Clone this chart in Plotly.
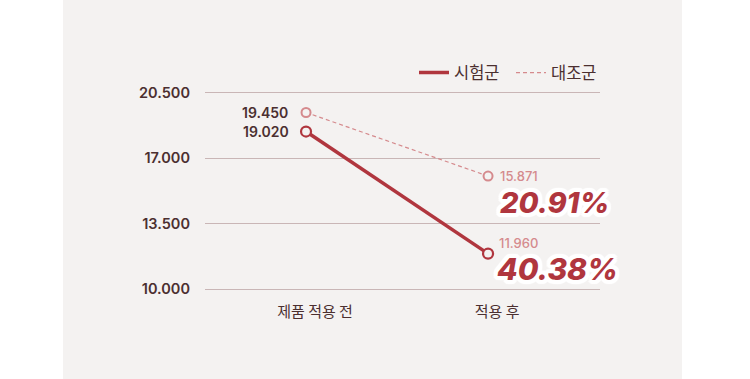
import plotly.graph_objects as go

# ---- data ----
categories = ["제품 적용 전", "적용 후"]
x_pos = [0, 1]
test_values = [18.43, 11.90]        # 시험군 plotted positions
control_values = [19.45, 16.05]     # 대조군 plotted positions
test_labels = ["19.020", "11.960"]
control_labels = ["19.450", "15.871"]
test_reduction = "40.38%"
control_reduction = "20.91%"
y_ticks = [10.0, 13.5, 17.0, 20.5]
y_tick_labels = ["10.000", "13.500", "17.000", "20.500"]
y_range = [9.9, 20.6]

# ---- styles ----
RED = "#b0363e"
PINK = "#d58a8d"
DARK = "#4b2f30"
PANEL = "#f4f2f1"
GRID = "#c9b6b6"
NUM_FONT = "Inter, Lato, DejaVu Sans, sans-serif"
KR_FONT = "Noto Sans CJK KR, Noto Sans, sans-serif"

W, H = 750, 379
M_L, M_R = 205, 150
PX_PER_UNIT = 196 / 10.5
M_T = 93 - (y_range[1] - 20.5) * PX_PER_UNIT
M_B = (H - 289) - (10.0 - y_range[0]) * PX_PER_UNIT
PLOT_W = W - M_L - M_R
PLOT_H = H - M_T - M_B

fig = go.Figure()

fig.add_trace(go.Scatter(
    x=x_pos, y=test_values, name="시험군", mode="lines",
    line=dict(color=RED, width=3.5), cliponaxis=False,
))
fig.add_trace(go.Scatter(
    x=x_pos, y=control_values, name="대조군", mode="lines",
    line=dict(color=PINK, width=1.2, dash="4px,3px"), cliponaxis=False,
))
fig.add_trace(go.Scatter(
    x=x_pos, y=test_values, mode="markers", showlegend=False,
    marker=dict(symbol="circle", size=10, color=PANEL, line=dict(color=RED, width=2.2)),
    cliponaxis=False,
))
fig.add_trace(go.Scatter(
    x=x_pos, y=control_values, mode="markers", showlegend=False,
    marker=dict(symbol="circle", size=9, color=PANEL, line=dict(color=PINK, width=2)),
    cliponaxis=False,
))

annotations = []
annotations.append(dict(x=x_pos[0], y=control_values[0], text=control_labels[0],
                        xanchor="right", yanchor="middle", xshift=-16, showarrow=False,
                        font=dict(family=NUM_FONT, size=14, color=DARK, weight=600)))
annotations.append(dict(x=x_pos[0], y=test_values[0], text=test_labels[0],
                        xanchor="right", yanchor="middle", xshift=-15, showarrow=False,
                        font=dict(family=NUM_FONT, size=14, color=DARK, weight=600)))
annotations.append(dict(x=x_pos[1], y=control_values[1], text=control_labels[1],
                        xanchor="left", yanchor="middle", xshift=10, yshift=0, showarrow=False,
                        font=dict(family=NUM_FONT, size=13, color=PINK, weight=500)))
annotations.append(dict(x=x_pos[1], y=test_values[1], text=test_labels[1],
                        xanchor="left", yanchor="middle", xshift=9, yshift=11, showarrow=False,
                        font=dict(family=NUM_FONT, size=13, color=PINK, weight=500)))
shadow = ", ".join(f"{dx}px {dy}px 1px #ffffff" for dx, dy in
                   [(4, 0), (-4, 0), (0, 4), (0, -4), (3, 3), (-3, 3), (3, -3), (-3, -3),
                    (2, 4), (-2, 4), (2, -4), (-2, -4), (4, 2), (-4, 2), (4, -2), (-4, -2)])
annotations.append(dict(x=x_pos[1], y=control_values[1], text=control_reduction,
                        xanchor="left", yanchor="middle", xshift=10, yshift=-26, showarrow=False,
                        font=dict(family=NUM_FONT, size=29, color=RED, weight=800,
                                  style="italic", shadow=shadow)))
annotations.append(dict(x=x_pos[1], y=test_values[1], text=test_reduction,
                        xanchor="left", yanchor="middle", xshift=7, yshift=-15, showarrow=False,
                        font=dict(family=NUM_FONT, size=30, color=RED, weight=800,
                                  style="italic", shadow=shadow)))

# panel background: page px x 63-682, full height
fig.add_shape(type="rect", xref="paper", yref="paper",
              x0=(63 - M_L) / PLOT_W, x1=(682 - M_L) / PLOT_W,
              y0=-(M_B + 2) / PLOT_H, y1=(PLOT_H + M_T + 2) / PLOT_H,
              fillcolor=PANEL, line=dict(width=0), layer="below")

fig.update_layout(
    width=W, height=H,
    margin=dict(l=M_L, r=M_R, t=M_T, b=M_B, pad=0),
    paper_bgcolor="#ffffff", plot_bgcolor="rgba(0,0,0,0)",
    showlegend=True,
    legend=dict(orientation="h", x=(608 - M_L) / PLOT_W, xanchor="right",
                y=(H - M_B - 73) / PLOT_H, yanchor="middle",
                font=dict(family=KR_FONT, size=16.5, color=DARK),
                bgcolor="rgba(0,0,0,0)", itemwidth=30, tracegroupgap=0,
                entrywidth=52),
    annotations=annotations,
    xaxis=dict(range=[-0.555, 1.615], tickvals=x_pos, ticktext=categories,
               showgrid=False, zeroline=False, showline=False, ticks="",
               ticklabelshift=9, ticklabelstandoff=10,
               tickfont=dict(family=KR_FONT, size=15, color=DARK), fixedrange=True),
    yaxis=dict(range=y_range, tickvals=y_ticks, ticktext=y_tick_labels,
               showgrid=True, gridcolor=GRID, gridwidth=1, zeroline=False, showline=False,
               ticks="", ticklabelstandoff=14,
               tickfont=dict(family=NUM_FONT, size=14.5, color=DARK, weight=600), fixedrange=True),
)

fig.write_html("out.html", config={"displayModeBar": False},
               post_script="document.body.style.margin='0';")
